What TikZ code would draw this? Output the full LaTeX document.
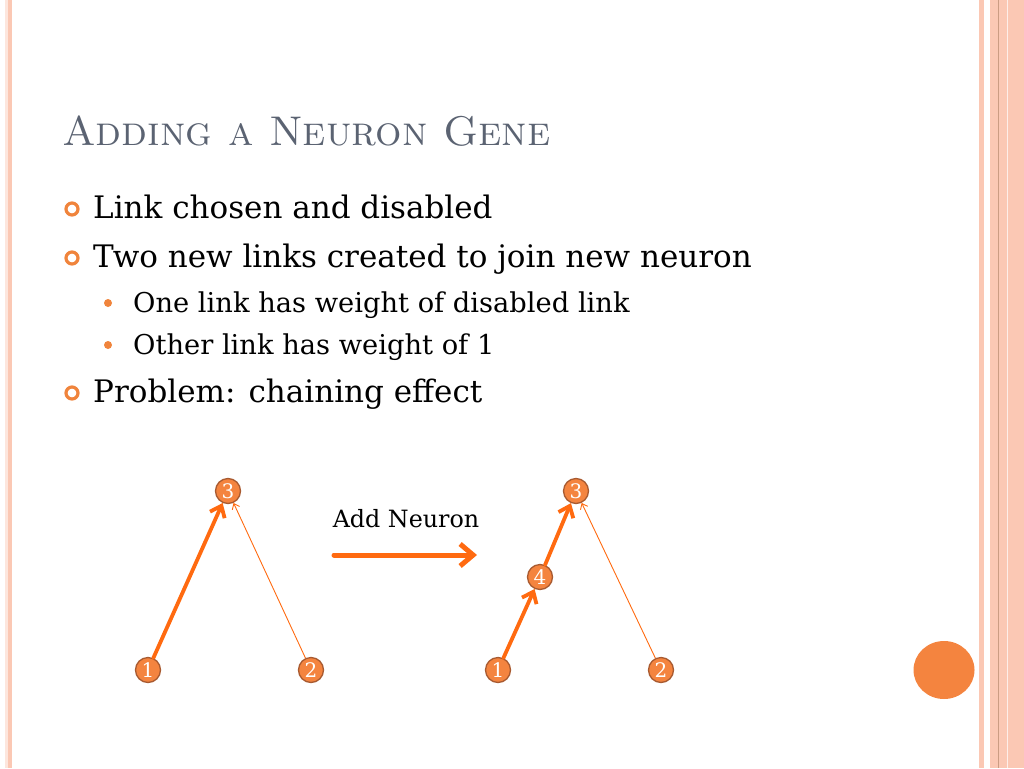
\documentclass[tikz,border=0pt]{standalone}
\usepackage{fontspec}
\newfontfamily\bodyfont{DejaVu Serif}
\usepackage{tikz}
\usetikzlibrary{arrows.meta}
\definecolor{linkorange}{HTML}{FF6A10}
\definecolor{neuronfill}{HTML}{F4843F}
\definecolor{neurondraw}{HTML}{A85A30}
\definecolor{titlegray}{HTML}{5B6372}
\definecolor{bulletorange}{HTML}{F0843C}
\definecolor{stripepink}{HTML}{FBC8B4}
\tikzstyle{neuron} = [circle, draw=neurondraw, fill=neuronfill, line width=1.3pt,
    inner sep=0pt, minimum size=25pt, text=white, font=\bodyfont\fontsize{20}{20}\selectfont]
\tikzstyle{bullettext} = [anchor=base west, inner sep=0pt, font=\bodyfont\fontsize{31}{34}\selectfont]
\tikzstyle{subtext} = [anchor=base west, inner sep=0pt, font=\bodyfont\fontsize{27.3}{30}\selectfont]

\begin{document}
\begin{tikzpicture}[x=1pt,y=-1pt,>={Straight Barb[length=10pt,width=16pt]},
                    link/.style={->,linkorange,line width=3.8pt,line cap=round},
                    oldlink/.style={->,linkorange,line width=0.9pt,
                      >={Straight Barb[length=5pt,width=8pt]}}]

  \useasboundingbox (0,0) rectangle (1024,768);
  % border stripes
  \fill[stripepink!45] (5,0) rectangle (7.5,768);
  \fill[stripepink] (7.5,0) rectangle (12,768);
  \fill[stripepink] (979,0) rectangle (983.5,768);
  \fill[stripepink] (990,0) rectangle (1024,768);
  \draw[neurondraw!60, line width=0.8pt] (998.5,0) -- (998.5,768);
  \draw[white!70!stripepink, line width=0.6pt] (1007.5,0) -- (1007.5,768);
  \fill[neuronfill] (944,670) ellipse (30.5pt and 29pt);

  % title and bullets
  \node[anchor=base west, inner sep=0pt, text=titlegray,
        font=\fontsize{41.5}{44}\selectfont] (title) at (62,145) {\textsc{Adding a Neuron Gene}};
  \foreach \y/\txt in {218/Link chosen and disabled,
                       267/Two new links created to join new neuron,
                       402/Problem: chaining effect} {
    \draw[bulletorange, line width=3.2pt] (72,\y-9) circle (6pt);
    \node[bullettext] at (93,\y) {\txt};
  }
  \foreach \y/\txt in {312/One link has weight of disabled link,
                       354/Other link has weight of 1} {
    \fill[bulletorange] (108,\y-9) circle (4pt);
    \node[subtext] at (133,\y) {\txt};
  }

  % before
  \node[neuron] (3) at (228,491) {3};
  \node[neuron] (1) at (148,670) {1};
  \node[neuron] (2) at (311,670) {2};
  \path (1) edge[link] (3)
        (2) edge[oldlink] (3);

  % operation
  \node[font=\bodyfont\fontsize{23.8}{26}\selectfont] (op) at (406,519) {Add Neuron};
  \coordinate (opL) at (334,555);
  \coordinate (opR) at (477,555);
  \draw[link, line width=5pt, >={Straight Barb[length=13pt,width=22pt]}] (opL) -- (opR);

  % after
  \node[neuron] (3b) at (576,491) {3};
  \node[neuron] (4b) at (540,577) {4};
  \node[neuron] (1b) at (498,670) {1};
  \node[neuron] (2b) at (661,670) {2};
  \path (1b) edge[link] (4b)
        (4b) edge[link] (3b)
        (2b) edge[oldlink] (3b);
\end{tikzpicture}
\end{document}
